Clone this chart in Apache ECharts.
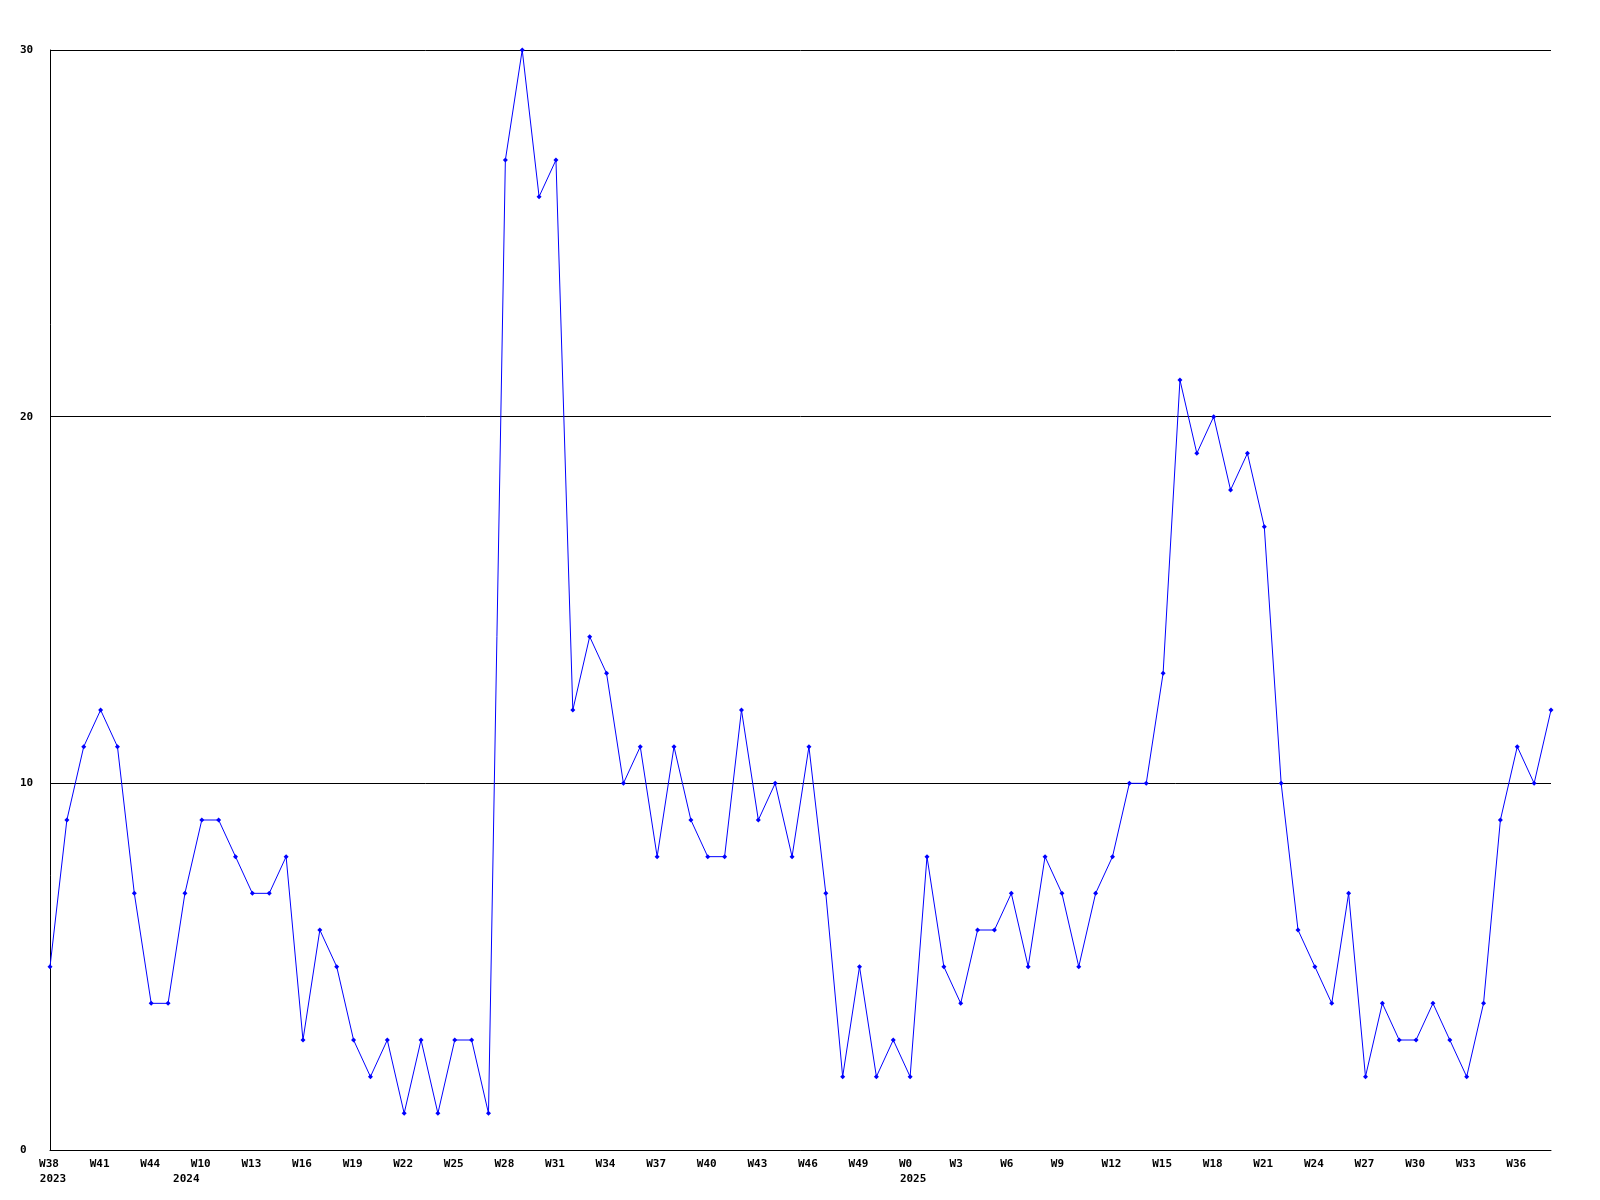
<!DOCTYPE html>
<html>
<head>
<meta charset="utf-8">
<script src="https://cdn.jsdelivr.net/npm/echarts@6/dist/echarts.min.js"></script>
<style>html,body{margin:0;padding:0;background:#fff}#c{width:1600px;height:1200px}</style>
</head>
<body>
<div id="c"></div>
<script>
const weeks = [
 "W38","W39","W40","W41","W42","W43","W44","W45","W46",
 "W10","W11","W12","W13","W14","W15","W16","W17","W18",
 "W19","W20","W21","W22","W23","W24","W25","W26","W27",
 "W28","W29","W30","W31","W32","W33","W34","W35","W36",
 "W37","W38","W39","W40","W41","W42","W43","W44","W45",
 "W46","W47","W48","W49","W50","W51",
 "W0","W1","W2","W3","W4","W5","W6","W7","W8",
 "W9","W10","W11","W12","W13","W14","W15","W16","W17",
 "W18","W19","W20","W21","W22","W23","W24","W25","W26",
 "W27","W28","W29","W30","W31","W32","W33","W34","W35",
 "W36","W37","W38"
];
// year label shown under the week at the given index
const yearAt = {0:"2023", 9:"2024", 51:"2025"};
const counts = [
 5,9,11,12,11,7,4,4,7,
 9,9,8,7,7,8,3,6,5,
 3,2,3,1,3,1,3,3,1,
 27,30,26,27,12,14,13,10,11,
 8,11,9,8,8,12,9,10,8,
 11,7,2,5,2,3,
 2,8,5,4,6,6,7,5,8,
 7,5,7,8,10,10,13,21,19,
 20,18,19,17,10,6,5,4,7,
 2,4,3,3,4,3,2,4,9,
 11,10,12
];
const yTicks = [0,10,20,30];

const chart = echarts.init(document.getElementById('c'), null, {renderer:'canvas'});
const font = '"DejaVu Sans Mono", monospace';
const base = {color:'#000',fontFamily:font,fontWeight:'bold',fontSize:11,lineHeight:15};
const rich = {};
for (let n=1;n<=4;n++){
  rich['w'+n] = Object.assign({}, base, {padding:[0, Math.max(0, Math.round(22 - 6.6*n)), 0, 0]});
}
rich.y = Object.assign({}, base, {padding:[0,0,0,6]});
rich.y2 = Object.assign({}, base, {padding:[0,31,0,0]});

chart.setOption({
  animation:false,
  backgroundColor:'#ffffff',
  grid:{left:50,right:49,top:50,bottom:50,containLabel:false},
  xAxis:{
    type:'category', data:weeks, boundaryGap:false,
    axisLine:{show:true,lineStyle:{color:'#000',width:1}},
    axisTick:{show:false},
    splitLine:{show:false},
    axisLabel:{interval:2,color:'#000',fontFamily:font,fontWeight:'bold',fontSize:11,lineHeight:15,margin:7,align:'center',
      rich:rich,
      formatter:function(v, i){
        let s = '{w'+Math.min(4,v.length)+'|'+v+'}';
        if (yearAt[i]) s += '\n{'+(i===9?'y2':'y')+'|'+yearAt[i]+'}';
        return s;
      }}
  },
  yAxis:{
    type:'value', min:0, max:30, interval:10,
    axisLine:{show:true,lineStyle:{color:'#000',width:1}},
    axisTick:{show:false},
    splitLine:{show:true,lineStyle:{color:'#000',width:1}},
    axisLabel:{color:'#000',fontFamily:font,fontWeight:'bold',fontSize:11,align:'left',margin:30,
      formatter:function(v){return yTicks.indexOf(v)>=0?String(v):'';}}
  },
  series:[{
    type:'line', data:counts,
    lineStyle:{color:'#0000ff',width:1},
    itemStyle:{color:'#0000ff'},
    symbol:'diamond', symbolSize:5, showAllSymbol:true,
    emphasis:{disabled:true}
  }]
});
</script>
</body>
</html>
